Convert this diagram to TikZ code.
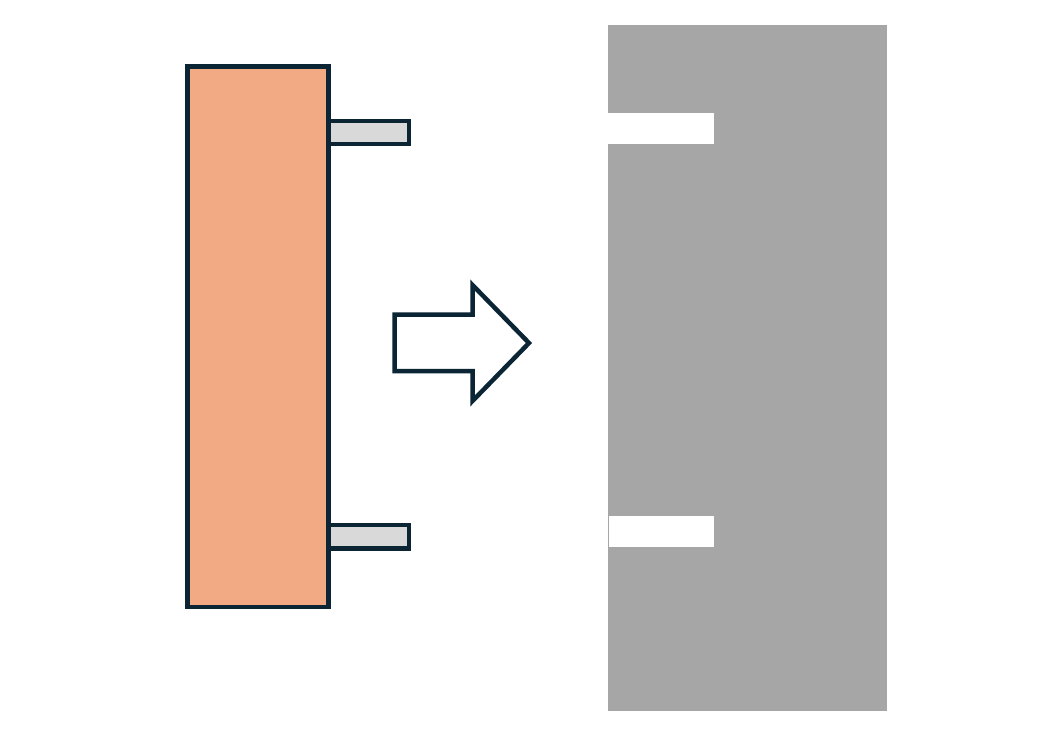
\documentclass[tikz,border=0pt]{standalone}
\usetikzlibrary{positioning}

\definecolor{outline}{HTML}{0B2535}
\definecolor{bodyfill}{HTML}{F2AA84}
\definecolor{pinfill}{HTML}{D9D9D9}
\definecolor{moldfill}{HTML}{A6A6A6}

\tikzset{
	part/.style={draw=outline, line width=4.5pt, line join=miter},
	body/.style={part, fill=bodyfill},
	pin/.style={part, fill=pinfill},
	mold/.style={fill=moldfill},
	slot/.style={fill=white}
}

\begin{document}
\begin{tikzpicture}[x=1pt, y=-1pt]
	\useasboundingbox (0,0) rectangle (1044,744);
	% part with its pins
	\draw[pin] (328.5,120.8) rectangle (409,144.2);
	\draw[pin] (328.5,524.8) rectangle (409,548.5);
	\draw[body] (187.5,66.5) rectangle (328.5,607);
	% arrow
	\draw[part, fill=white] (394.5,314.5) -- (472.5,314.5) -- (472.5,285) -- (529,343) -- (472.5,401) -- (472.5,371) -- (394.5,371) -- cycle;
	% mold with the slots for the pins
	\fill[mold] (608,25) rectangle (887,711);
	\fill[slot] (608,113) rectangle (714,144);
	\fill[slot] (609,516) rectangle (714,547);
\end{tikzpicture}
\end{document}
